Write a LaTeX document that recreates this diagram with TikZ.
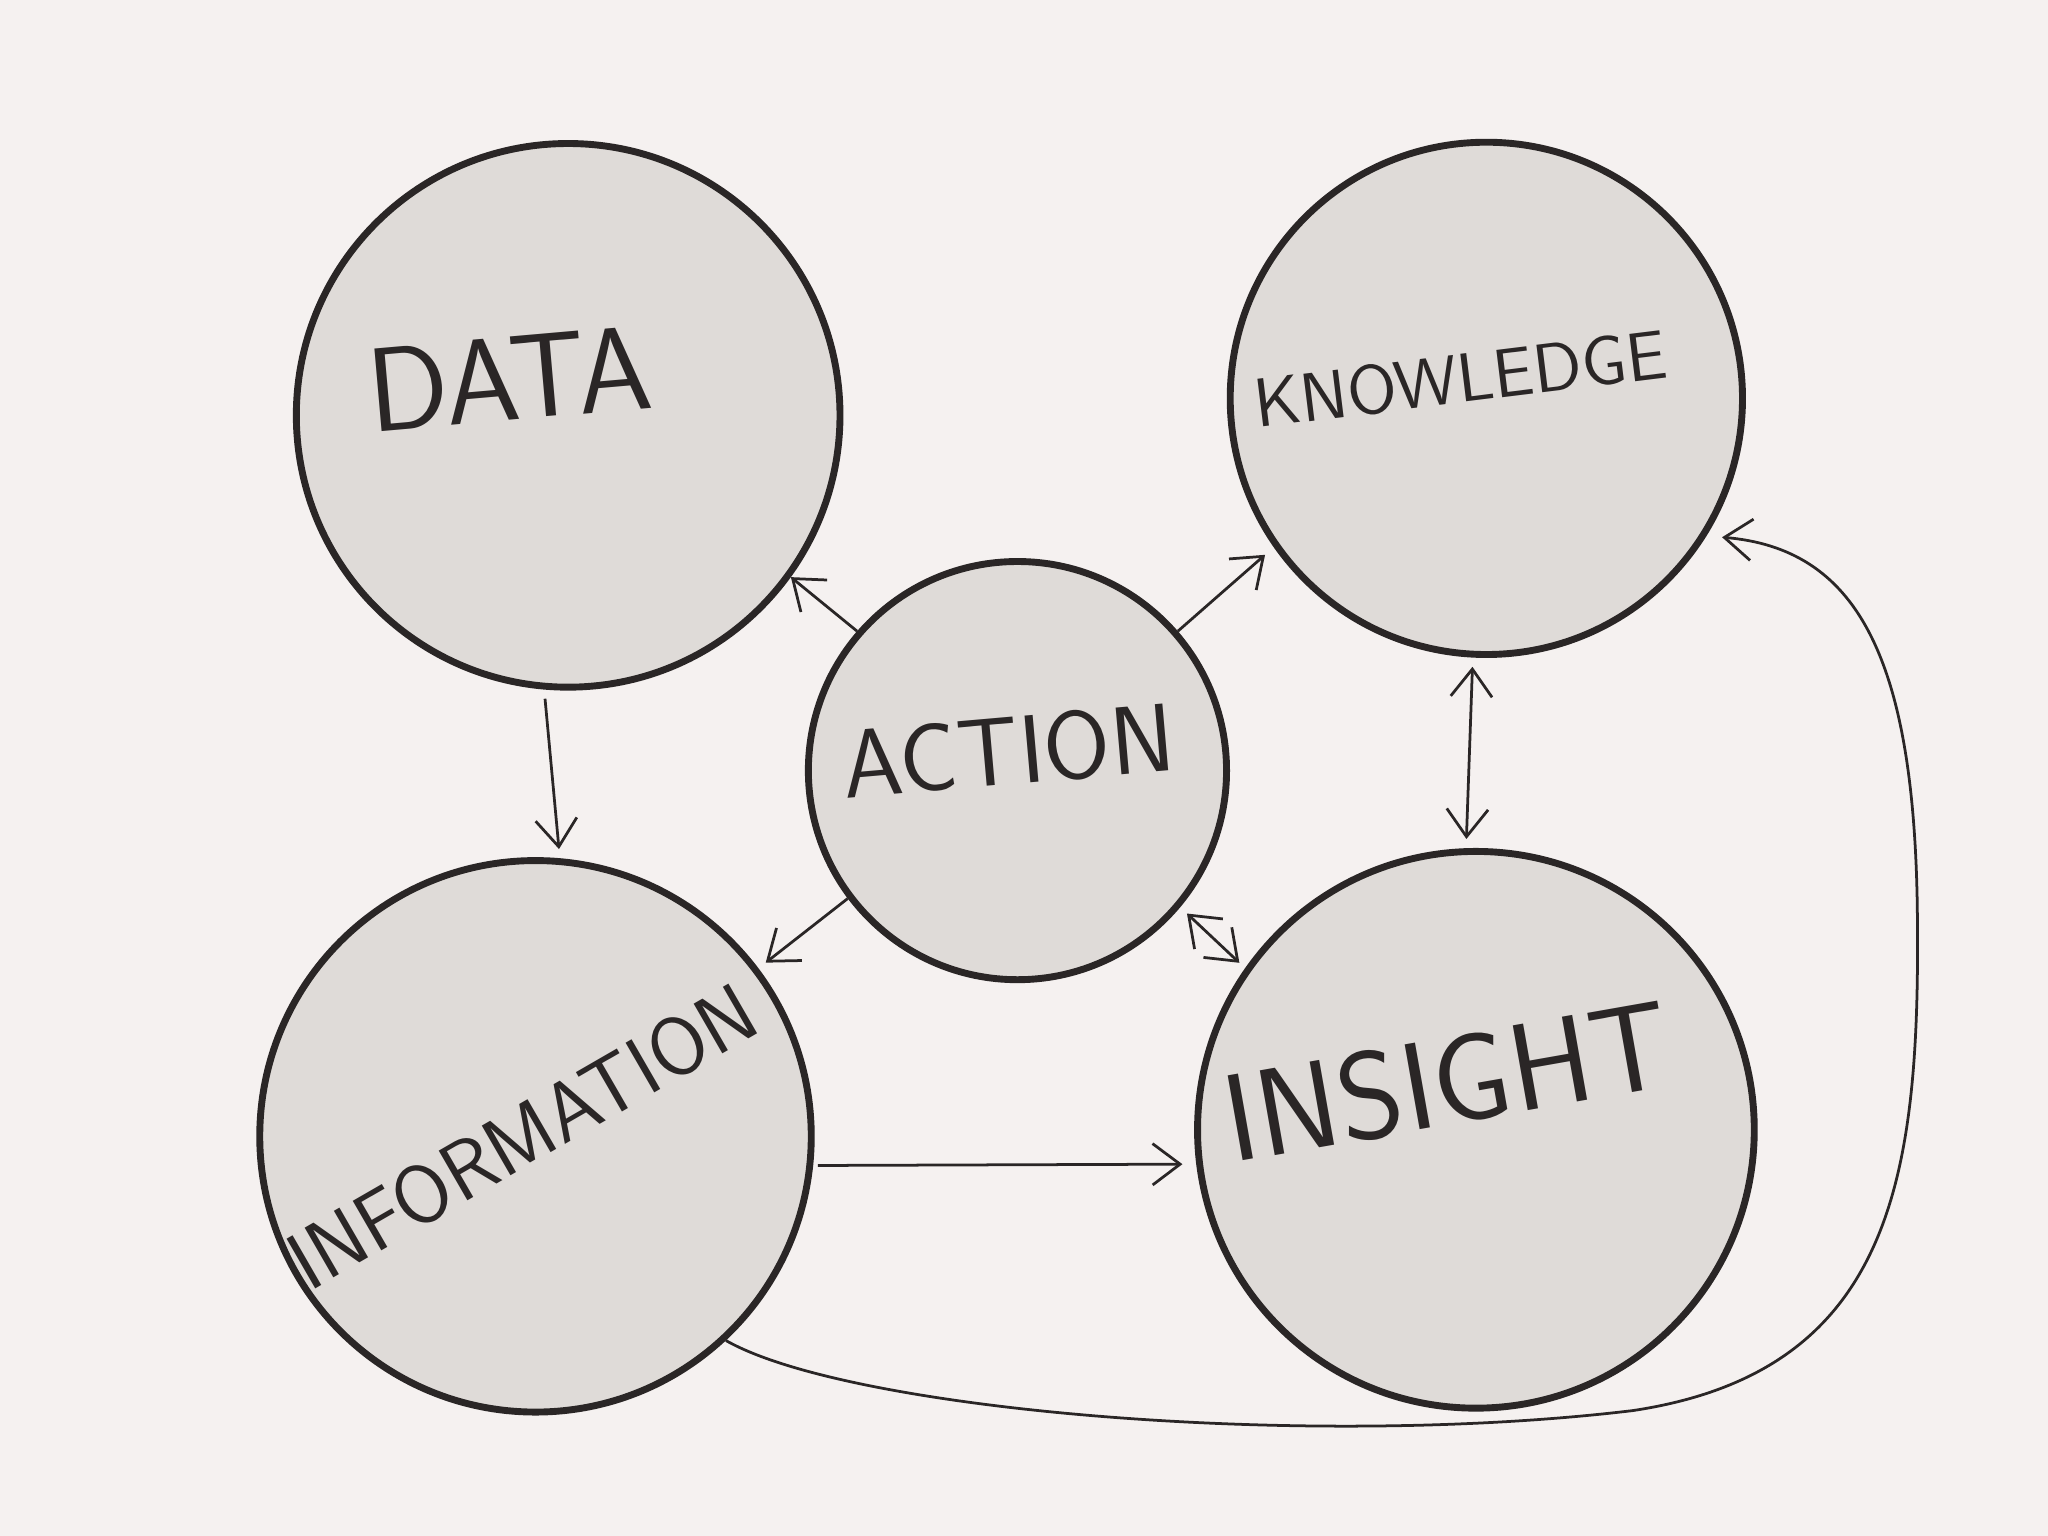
\documentclass[tikz,border=0pt]{standalone}
\usetikzlibrary{arrows.meta}
\definecolor{bg}{HTML}{F5F1F0}
\definecolor{fillc}{HTML}{DFDBD8}
\definecolor{ink}{HTML}{2A2626}
\begin{document}
\begin{tikzpicture}[x=0.01cm,y=-0.01cm,
  blob/.style={circle,draw=ink,fill=fillc,line width=1.5pt,inner sep=0pt},
  lbl/.style={text=ink,font=\sffamily\fontsize{26}{26}\selectfont},
  conn/.style={draw=ink,line width=0.6pt,-{Straight Barb[length=6pt,width=9pt]}},
  both/.style={conn,{Straight Barb[length=6pt,width=9pt]}-{Straight Barb[length=6pt,width=9pt]}}]
\fill[bg] (0,0) rectangle (1568,1176);
\useasboundingbox (0,0) rectangle (1568,1176);
\node[blob,minimum size=4.16cm] (data) at (435,318) {};
\node[blob,minimum size=3.92cm] (know) at (1138,305) {};
\node[blob,minimum size=3.2cm] (act) at (779,590) {};
\node[blob,minimum size=4.22cm] (info) at (410,870) {};
\node[blob,minimum size=4.26cm] (ins) at (1130,865) {};
\node[lbl,rotate=5] at (390,290) {DATA};
\node[lbl,rotate=7,font=\sffamily\fontsize{15}{15}\selectfont] at (1118,290) {KNOWLEDGE};
\node[lbl,rotate=5,font=\sffamily\fontsize{21}{21}\selectfont] at (772,575) {ACTION};
\node[lbl,rotate=30,font=\sffamily\fontsize{18}{18}\selectfont] at (400,870) {INFORMATION};
\node[lbl,rotate=10,font=\sffamily\fontsize{27}{27}\selectfont] at (1108,828) {INSIGHT};
\draw[conn,shorten <=2pt,shorten >=2pt] (data.-95) -- (info.85);
\draw[conn] (act.139) -- (data.-36);
\draw[conn,shorten >=2.5pt] (act.41) -- (know.-145);
\draw[conn,shorten >=2pt] (act.-143) -- (info.37);
\draw[both,shorten <=2pt,shorten >=1.7pt] (act.-40) -- (ins.145);
\draw[both,shorten <=2pt,shorten >=2pt] (know.-93) -- (ins.92);
\draw[conn,shorten <=1pt,shorten >=3pt] (info.-6) -- (ins.-173);
\draw[conn,shorten >=3.4pt] (info.-47) .. controls (650,1080) and (1000,1110) .. (1250,1080)
  .. controls (1450,1050) and (1470,900) .. (1468,700)
  .. controls (1466,500) and (1420,420) .. (know.-32);
\end{tikzpicture}
\end{document}
